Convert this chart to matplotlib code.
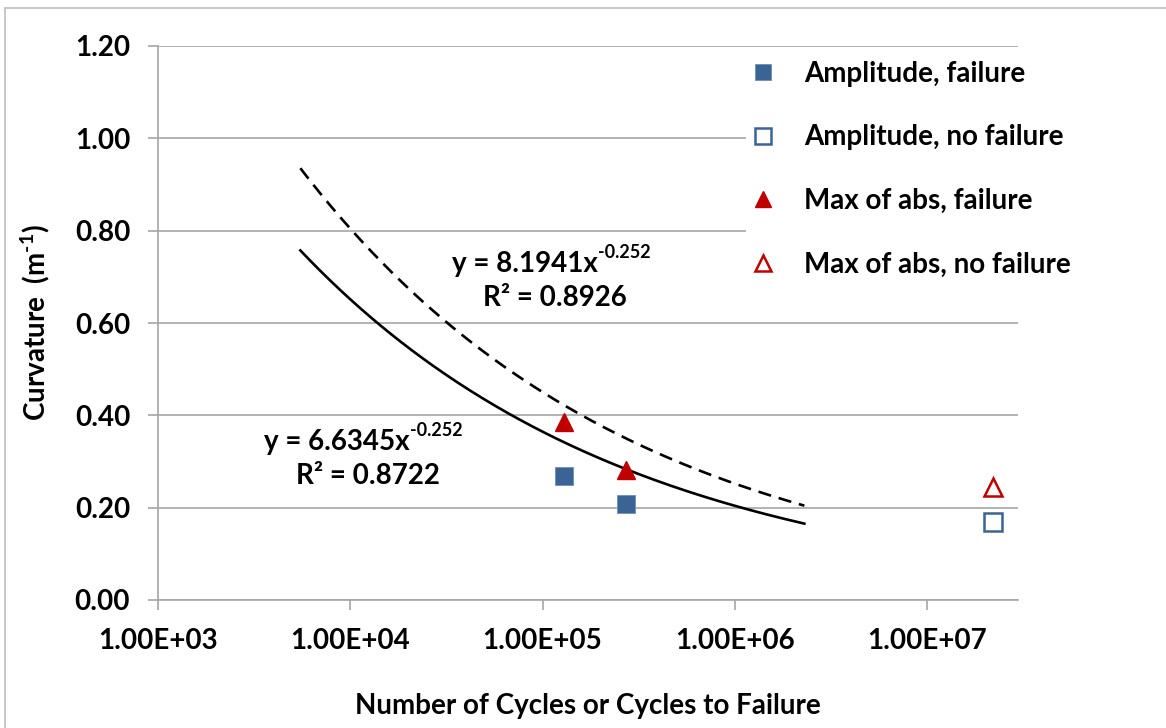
import numpy as np
import matplotlib
matplotlib.use("Agg")
import matplotlib.pyplot as plt
from matplotlib.lines import Line2D

plt.rcParams['font.family'] = ['Lato', 'DejaVu Sans']
plt.rcParams['font.weight'] = 'bold'
plt.rcParams['axes.labelweight'] = 'bold'
plt.rcParams['mathtext.fontset'] = 'custom'
plt.rcParams['mathtext.rm'] = 'Lato:bold'
plt.rcParams['mathtext.bf'] = 'Lato:bold'
plt.rcParams['mathtext.it'] = 'Lato:bold'

# data
amp_fail_x = [1.29e5, 2.73e5]
amp_fail_y = [0.269, 0.208]
amp_nofail_x = [2.2e7]
amp_nofail_y = [0.169]
max_fail_x = [1.29e5, 2.73e5]
max_fail_y = [0.386, 0.282]
max_nofail_x = [2.2e7]
max_nofail_y = [0.245]

# power trendlines from the labels on the chart (y = a*x^b)
fit_amp = [6.6345, -0.252]
fit_max = [8.1941, -0.252]
fit_range = [5.5e3, 2.3e6]

blue = '#3A6496'
red = '#C00000'
grid = '#A6A6A6'
fs = 20

fig = plt.figure(figsize=(11.66, 7.28), dpi=100)
ax = fig.add_axes([158/1166, 1-600/728, (1018-158)/1166, (600-46)/728])

xs = np.geomspace(fit_range[0], fit_range[1], 200)
ax.plot(xs, fit_amp[0]*xs**fit_amp[1], color='black', lw=1.9, zorder=2)
ax.plot(xs, fit_max[0]*xs**fit_max[1], color='black', lw=1.9, ls=(0, (5, 3)), zorder=2)

ax.plot(amp_fail_x, amp_fail_y, 's', ms=13, color=blue, mec='#6E8FB8', mew=0.6,
        ls='none', label='Amplitude, failure', zorder=3)
ax.plot(amp_nofail_x, amp_nofail_y, 's', ms=13, mfc='white', mec=blue, mew=1.8,
        ls='none', label='Amplitude, no failure', zorder=3)
ax.plot(max_fail_x, max_fail_y, '^', ms=13, color=red, ls='none',
        label='Max of abs, failure', zorder=3)
ax.plot(max_nofail_x, max_nofail_y, '^', ms=13, mfc='white', mec=red, mew=1.8,
        ls='none', label='Max of abs, no failure', zorder=3)

ax.set_xscale('log')
ax.set_xlim(1e3, 2.97e7)
ax.set_ylim(0, 1.2)
ax.set_xticks([1e3, 1e4, 1e5, 1e6, 1e7])
ax.set_xticklabels(['1.00E+03', '1.00E+04', '1.00E+05', '1.00E+06', '1.00E+07'])
ax.xaxis.set_minor_locator(matplotlib.ticker.NullLocator())
ax.set_yticks(np.arange(0, 1.21, 0.2))
ax.set_yticklabels(['%.2f' % v for v in np.arange(0, 1.21, 0.2)])
ax.tick_params(axis='both', labelsize=fs, colors=grid, labelcolor='black',
               length=7, width=1.2)
ax.tick_params(axis='y', pad=13)
ax.tick_params(axis='x', pad=13)
ax.yaxis.grid(True, color=grid, lw=1.2)
ax.set_axisbelow(True)
for s in ['top', 'right']:
    ax.spines[s].set_visible(False)
for s in ['left', 'bottom']:
    ax.spines[s].set_color(grid)
    ax.spines[s].set_linewidth(1.2)

ax.set_xlabel('Number of Cycles or Cycles to Failure', fontsize=fs, labelpad=28)
ax.set_ylabel('Curvature  (m$^{\u2010 1}$)', fontsize=fs, labelpad=16)

# equation labels, placed by pixel position from the top-left
eq_labels = [(556, 264, 'y = 8.1941x', '-0.252'),
             (555, 298, 'R² = 0.8926', ''),
             (368, 442, 'y = 6.6345x', '-0.252'),
             (368, 476, 'R² = 0.8722', '')]
for px, py, txt, sup in eq_labels:
    if sup:
        # base text is shifted left so that base + exponent is centred
        base = fig.text((px - 31)/1166, 1 - py/728, txt, fontsize=fs,
                        ha='center', va='center')
        ax.annotate(sup, xy=(1.0, 0.62), xycoords=base, fontsize=13,
                    ha='left', va='bottom')
    else:
        fig.text(px/1166, 1 - py/728, txt, fontsize=fs, ha='center', va='center')

leg = ax.legend(loc='upper left', bbox_to_anchor=(732/1166, 1-47/728),
                bbox_transform=fig.transFigure, fontsize=fs, frameon=True,
                facecolor='white', edgecolor='none', framealpha=1,
                labelspacing=1.35, handletextpad=0.9, handlelength=1.2,
                borderpad=0.0, markerscale=0.9)
leg.set_zorder(5)

# outer chart border (left and top only are visible in the crop)
fig.add_artist(Line2D([5/1166, 5/1166], [0, 1-8/728], transform=fig.transFigure,
                      color='#BFBFBF', lw=1.2))
fig.add_artist(Line2D([5/1166, 1], [1-8/728, 1-8/728], transform=fig.transFigure,
                      color='#BFBFBF', lw=1.2))

fig.savefig('out.png', dpi=100)
